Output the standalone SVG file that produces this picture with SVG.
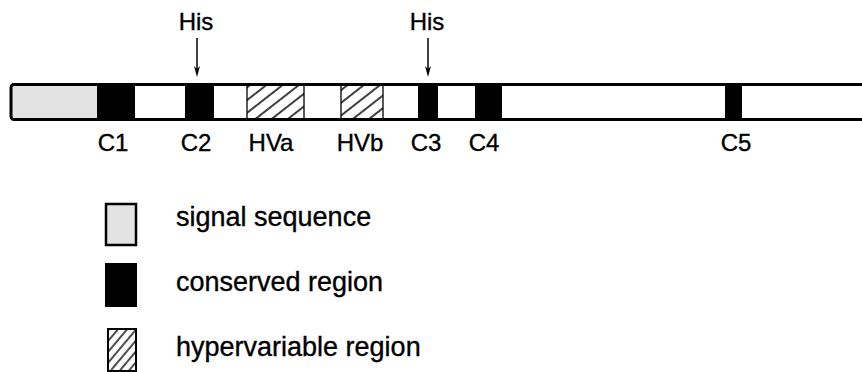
<svg xmlns="http://www.w3.org/2000/svg" width="862" height="372" viewBox="0 0 862 372">
  <style>
    text { font-family: "Liberation Sans", Arial, sans-serif; fill: #000; stroke: #000; stroke-width: 0.35; }
    .lbl { font-size: 24px; text-anchor: middle; }
    .leg { font-size: 27px; }
    .cons { fill: #000; }
    .hyper { fill: url(#hatchBar); stroke: #000; stroke-width: 1.3; }
    .shaft { stroke: #000; stroke-width: 1.5; fill: none; }
    .tip { fill: #000; stroke: none; }
  </style>
  <defs>
    <pattern id="hatchBar" patternUnits="userSpaceOnUse" width="10" height="10" patternTransform="rotate(-38)">
      <rect width="10" height="10" fill="#fff"/>
      <line x1="0" y1="1" x2="10" y2="1" stroke="#000" stroke-width="1.5"/>
    </pattern>
    <pattern id="hatchLeg" patternUnits="userSpaceOnUse" width="7" height="7" patternTransform="rotate(-50)">
      <rect width="7" height="7" fill="#fff"/>
      <line x1="0" y1="1" x2="7" y2="1" stroke="#000" stroke-width="1.4"/>
    </pattern>
  </defs>

  <!-- protein bar -->
  <g id="bar">
    <rect x="11" y="84.5" width="870" height="35" rx="3" fill="#fff"/>
    <rect id="signal" x="11" y="84.5" width="86" height="35" fill="#e3e3e3"/>
    <rect id="C1" class="cons" x="97" y="84.5" width="38" height="35"/>
    <rect id="C2" class="cons" x="185" y="84.5" width="29" height="35"/>
    <rect id="HVa" class="hyper" x="247" y="84.5" width="57" height="35"/>
    <rect id="HVb" class="hyper" x="341" y="84.5" width="42" height="35"/>
    <rect id="C3" class="cons" x="418" y="84.5" width="20" height="35"/>
    <rect id="C4" class="cons" x="475" y="84.5" width="27" height="35"/>
    <rect id="C5" class="cons" x="725" y="84.5" width="17" height="35"/>
    <rect x="11" y="84.5" width="870" height="35" rx="3" fill="none" stroke="#000" stroke-width="3"/>
  </g>

  <!-- region labels -->
  <g id="labels">
    <text class="lbl" x="113" y="151">C1</text>
    <text class="lbl" x="196" y="151">C2</text>
    <text class="lbl" x="271" y="151">HVa</text>
    <text class="lbl" x="360" y="151">HVb</text>
    <text class="lbl" x="426" y="151">C3</text>
    <text class="lbl" x="484" y="151">C4</text>
    <text class="lbl" x="736" y="151">C5</text>
  </g>

  <!-- histidine markers -->
  <g id="his-C2">
    <text class="lbl" x="196" y="30">His</text>
  </g>
  <g id="his-C3">
    <text class="lbl" x="427" y="30">His</text>
  </g>
  <g id="connectors">
    <path class="shaft" d="M197,38 V70"/>
    <path class="tip" d="M194,66 L197,77 L200,66 L197,69 Z"/>
    <path class="shaft" d="M428,38 V70"/>
    <path class="tip" d="M425,66 L428,77 L431,66 L428,69 Z"/>
  </g>

  <!-- legend -->
  <g id="legend-signal">
    <rect x="106" y="204" width="30" height="41" fill="#e3e3e3" stroke="#000" stroke-width="2.5"/>
    <text class="leg" x="176" y="226">signal sequence</text>
  </g>
  <g id="legend-conserved">
    <rect x="105" y="263" width="32" height="44" fill="#000"/>
    <text class="leg" x="176" y="291">conserved region</text>
  </g>
  <g id="legend-hyper">
    <rect x="108" y="329" width="28" height="42" fill="url(#hatchLeg)" stroke="#000" stroke-width="2"/>
    <text class="leg" x="176" y="356">hypervariable region</text>
  </g>
</svg>
